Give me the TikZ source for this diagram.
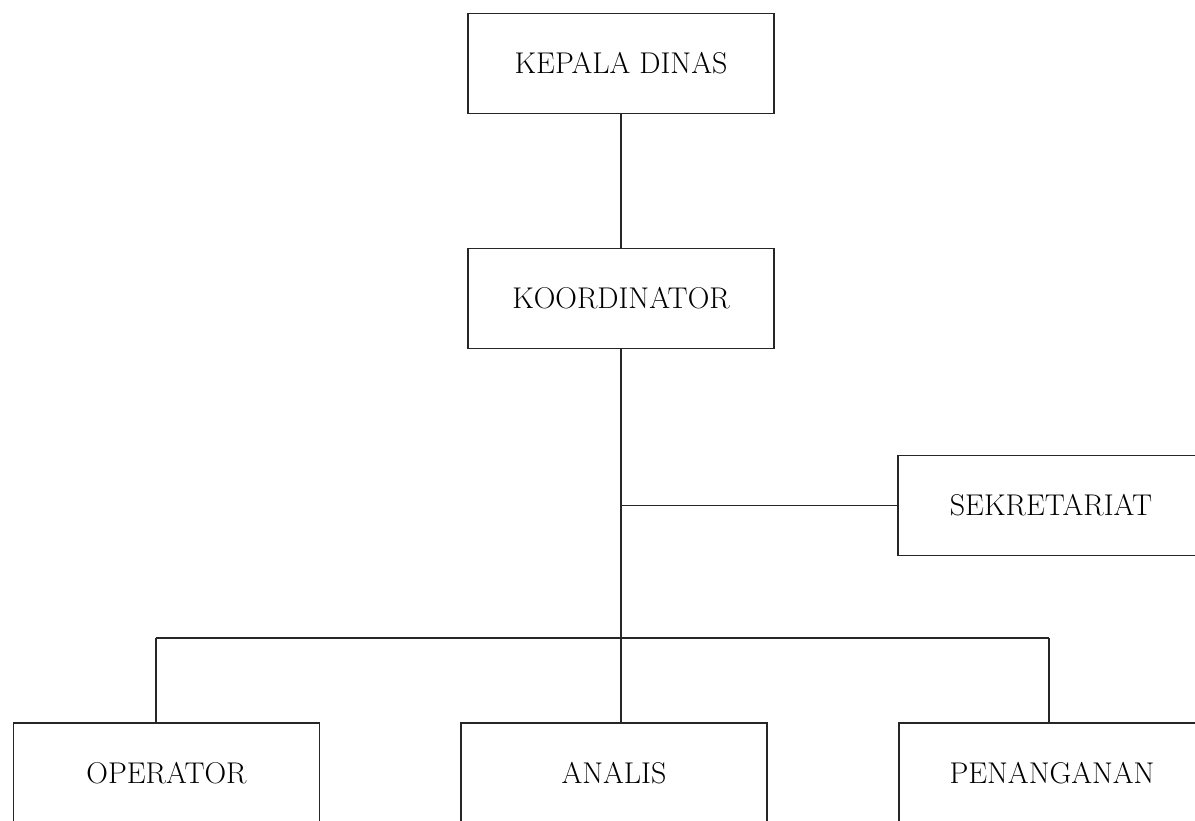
\documentclass[tikz,border=0pt]{standalone}
\usepackage{tikz}
\usetikzlibrary{positioning}

\begin{document}
\begin{tikzpicture}[x=0.5pt,y=-0.5pt,semithick,draw=black!85]
\tikzstyle{unit}=[rectangle,draw=black!85,fill=none,text=black,inner sep=0pt,
  minimum width=153pt,minimum height=50pt,font=\fontsize{15}{17}\selectfont]

\useasboundingbox (0,0) rectangle (1195,820);
\clip (0,0) rectangle (1195,820);

\node[unit] (kadis) at (621,63.5)  {KEPALA DINAS};
\node[unit] (koord) at (621,298.5) {KOORDINATOR};
\node[unit] (sek)   at (1051,505.5) {SEKRETARIAT};
\node[unit] (opr)   at (166.5,773) {OPERATOR};
\node[unit] (anl)   at (614,773)   {ANALIS};
\node[unit] (pnn)   at (1052,773)  {PENANGANAN};

\coordinate (jsek) at (koord.south |- sek.west);
\coordinate (bopr) at (156,638);
\coordinate (bpnn) at (1049,638);

\draw (kadis) -- (koord);
\draw (koord.south) -- (koord.south |- anl.north);
\draw (jsek) -- (sek.west);
\draw (bopr) -- (bpnn);
\draw (bopr) -- (bopr |- opr.north);
\draw (bpnn) -- (bpnn |- pnn.north);
\end{tikzpicture}
\end{document}
